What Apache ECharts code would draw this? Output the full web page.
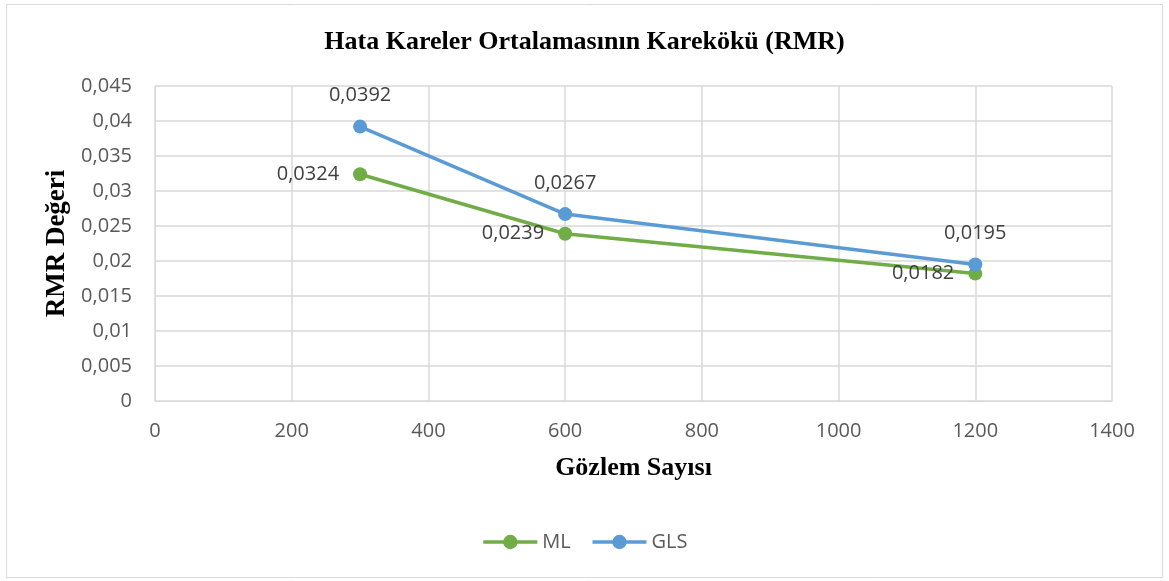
<!DOCTYPE html>
<html>
<head>
<meta charset="utf-8">
<script src="https://cdn.jsdelivr.net/npm/echarts@6/dist/echarts.min.js"></script>
<style>
  html, body { margin: 0; padding: 0; background: #fff; }
  #chart { width: 1169px; height: 581px; }
</style>
</head>
<body>
<div id="chart"></div>
<script>
// Gözlem sayısı ve RMR değerleri
var sampleSizes = [300, 600, 1200];
var mlValues = [0.0324, 0.0239, 0.0182];
var glsValues = [0.0392, 0.0267, 0.0195];

var green = "#70AD47";
var blue = "#5B9BD5";
var sans = "Open Sans";
var serif = "Liberation Serif";

function comma(v, d) {
  return String(Number(v.toFixed(d))).replace(".", ",");
}

function pairs(xs, ys) {
  return xs.map(function (x, i) { return [x, ys[i]]; });
}

var chart = echarts.init(document.getElementById("chart"));
var option = {
  backgroundColor: "#fff",
  animation: false,
  color: [green, blue],
  title: {
    text: "Hata Kareler Ortalamasının Karekökü (RMR)",
    left: "center",
    top: 24,
    textStyle: { fontFamily: serif, fontWeight: "bold", fontSize: 26, color: "#000" }
  },
  graphic: [{
    type: "rect",
    shape: { x: 6.5, y: 4.5, width: 1156, height: 573 },
    style: { fill: "none", stroke: "#D9D9D9", lineWidth: 1 },
    silent: true
  }],
  legend: {
    bottom: 24,
    left: "center",
    itemWidth: 54,
    itemHeight: 18,
    itemGap: 20,
    lineStyle: { width: 3.5 },
    textStyle: { fontFamily: sans, fontSize: 20, color: "#595959" },
    data: ["ML", "GLS"]
  },
  grid: { left: 155, right: 57, top: 86, bottom: 180 },
  xAxis: {
    type: "value",
    min: 0,
    max: 1400,
    interval: 200,
    name: "Gözlem Sayısı",
    nameLocation: "middle",
    nameGap: 54,
    nameTextStyle: { fontFamily: serif, fontWeight: "bold", fontSize: 26, color: "#000" },
    axisLine: { show: true, lineStyle: { color: "#D9D9D9" } },
    axisTick: { show: false },
    axisLabel: {
      fontFamily: sans, fontSize: 20, color: "#595959", margin: 20,
      formatter: function (v) { return String(v); }
    },
    splitLine: { show: true, lineStyle: { color: "#D9D9D9", width: 1.5 } }
  },
  yAxis: {
    type: "value",
    min: 0,
    max: 0.045,
    interval: 0.005,
    name: "RMR Değeri",
    nameLocation: "middle",
    nameGap: 83,
    nameTextStyle: { fontFamily: serif, fontWeight: "bold", fontSize: 27, color: "#000" },
    axisLine: { show: true, lineStyle: { color: "#D9D9D9" } },
    axisTick: { show: false },
    axisLabel: {
      fontFamily: sans, fontSize: 20, color: "#595959", margin: 23,
      formatter: function (v) { return comma(v, 3); }
    },
    splitLine: { show: true, lineStyle: { color: "#D9D9D9", width: 1.5 } }
  },
  series: [
    {
      name: "ML",
      type: "line",
      data: pairs(sampleSizes, mlValues),
      symbol: "circle",
      symbolSize: 14,
      lineStyle: { width: 3.5, color: green },
      itemStyle: { color: green },
      label: {
        show: true,
        position: "left",
        distance: 14,
        fontFamily: sans,
        fontSize: 20,
        color: "#404040",
        formatter: function (p) { return comma(p.value[1], 4); }
      }
    },
    {
      name: "GLS",
      type: "line",
      data: pairs(sampleSizes, glsValues),
      symbol: "circle",
      symbolSize: 14,
      lineStyle: { width: 3.5, color: blue },
      itemStyle: { color: blue },
      label: {
        show: true,
        position: "top",
        distance: 14,
        fontFamily: sans,
        fontSize: 20,
        color: "#404040",
        formatter: function (p) { return comma(p.value[1], 4); }
      }
    }
  ]
};
chart.setOption(option);
</script>
</body>
</html>
